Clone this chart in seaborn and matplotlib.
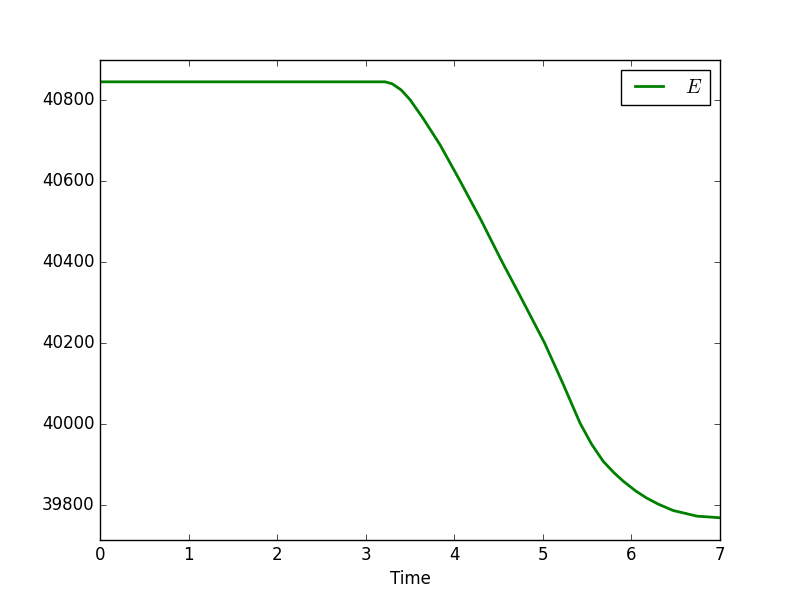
import pandas as pd
import matplotlib
matplotlib.use("Agg")
import matplotlib.pyplot as plt
import seaborn as sns

# values
time = [0.0, 3.0, 3.22, 3.30, 3.40, 3.50, 3.65, 3.84, 4.06, 4.30, 4.53,
        4.74, 5.02, 5.22, 5.42, 5.55, 5.68, 5.80, 5.91, 6.05, 6.17,
        6.30, 6.47, 6.74, 7.0]
energy = [40846, 40846, 40846, 40841, 40826, 40802, 40755, 40690, 40603, 40505, 40405,
          40318, 40200, 40103, 40002, 39950, 39908, 39880, 39858, 39834, 39817,
          39802, 39786, 39772, 39768]

data = pd.DataFrame({"Time": time, "E": energy})

plt.style.use("classic")
plt.rcParams["axes.formatter.useoffset"] = False

fig, ax = plt.subplots(figsize=(8, 6), dpi=100)
sns.lineplot(data=data, x="Time", y="E", color="g", linewidth=2, label="$E$", ax=ax)

ax.set_xlim(0, 7)
ax.set_ylim(39713, 40900)
ax.set_ylabel("")
ax.set_xlabel("Time")
ax.legend(loc="upper right")

fig.savefig("out.png", dpi=100)
